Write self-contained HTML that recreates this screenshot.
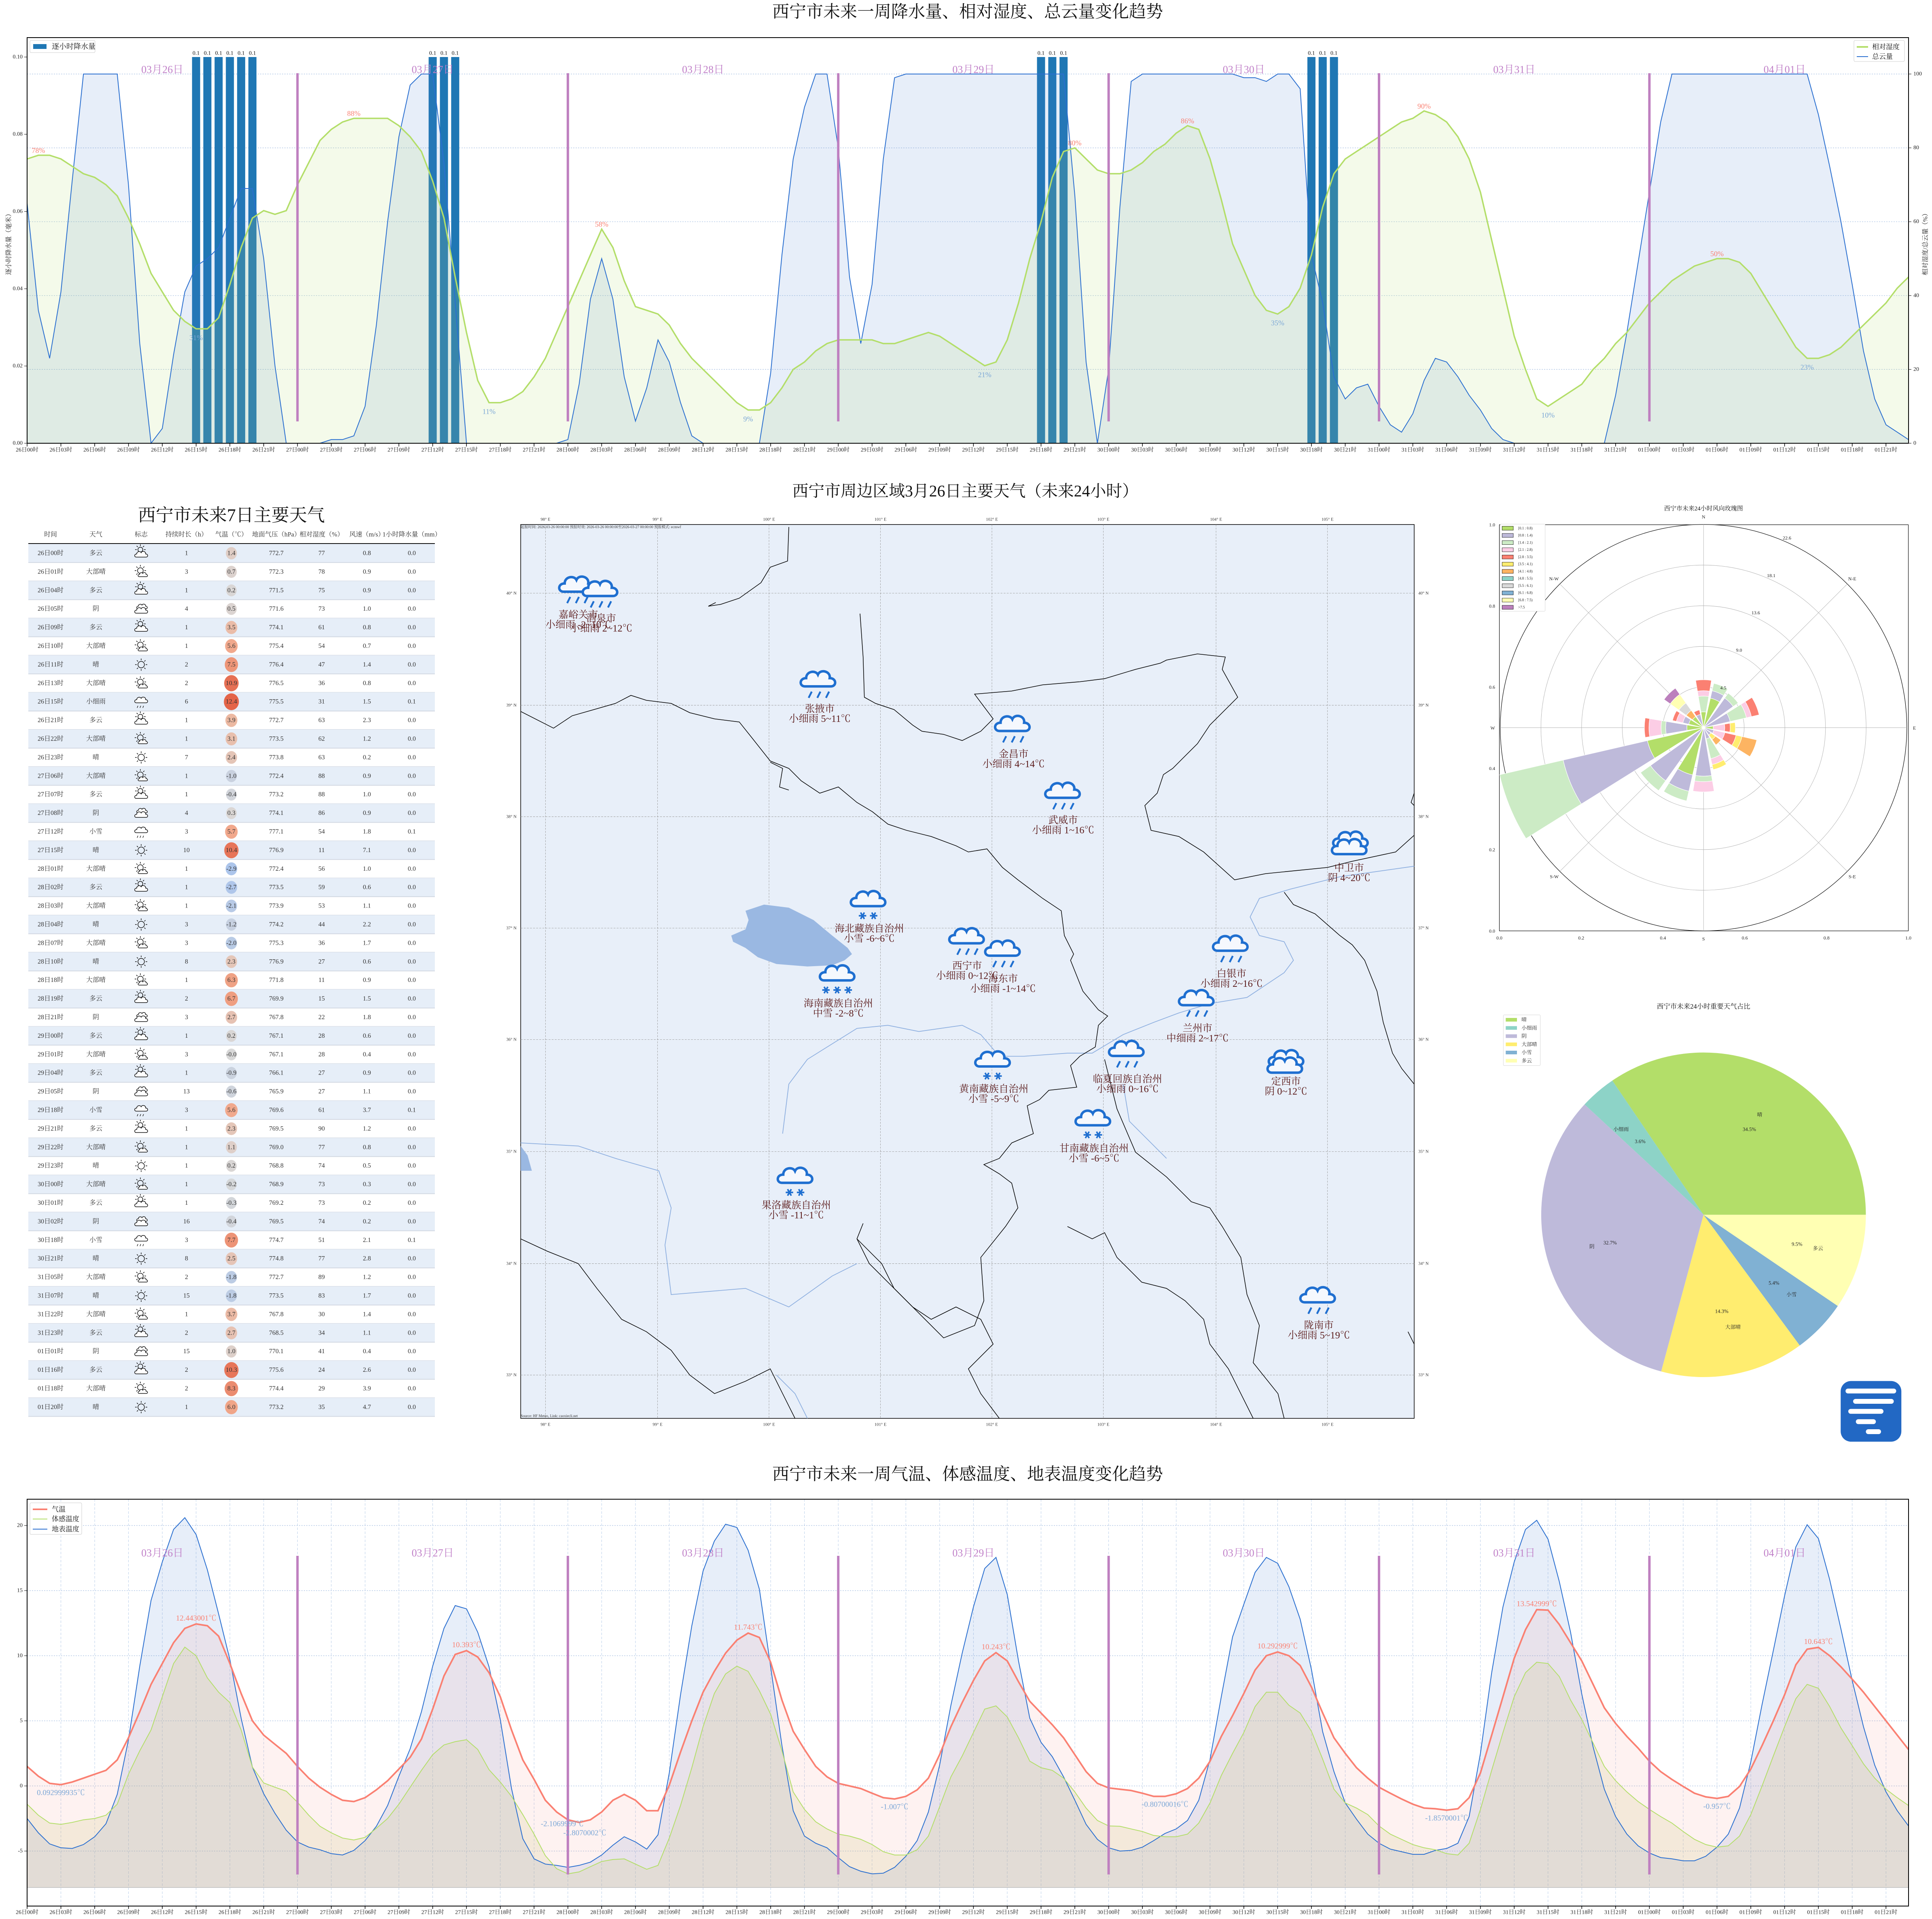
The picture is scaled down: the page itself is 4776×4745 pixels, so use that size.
<!DOCTYPE html>
<html><head><meta charset="utf-8">
<style>
html,body{margin:0;padding:0;background:#fff;}
body{width:4776px;height:4745px;position:relative;overflow:hidden;}
svg{font-family:"Liberation Serif","Noto Serif CJK SC","Noto Sans CJK SC",serif;}
</style></head>
<body>
<div id="root"></div>
<script>
const S=[];
const X=h=>67+h*27.85;
function T(x,y,t,sz,col,anc,ex){return `<text x="${x}" y="${y}" font-size="${sz}" fill="${col||'#222'}" text-anchor="${anc||'middle'}" dominant-baseline="central" ${ex||''}>${t}</text>`;}
const cld=[65,36,23,41,71,100,100,100,100,70, 27,0,4,24,41,48,50,53,61,69, 69,50,21,0,0,0,0,1,1,2, 10,32,60,83,97,100,100,76,38,0, 0,0,0,0,0,0,0,0,1,16, 39,50,39,18,6,15,28,22,11,2, 0,0,0,0,0,0,19,51,77,91, 100,100,80,45,27,43,77,99,100,100, 100,100,100,100,100,100,100,100,100,100, 100,100,100,67,22,0,20,64,98,100, 100,100,100,100,100,100,100,100,99,99, 98,100,100,96,51,38,18,12,15,16, 10,5,3,8,17,23,22,18,13,9, 4,1,0,0,0,0,0,0,0,0, 0,13,30,49,68,87,100,100,100,100, 100,100,100,100,100,100,100,100,100,89, 75,60,43,25,12,5,3,1];
const hum=[77,78,78,77,75,73,72,70,67,61, 54,46,41,36,33,31,31,34,43,53, 61,63,62,63,70,76,82,85,87,88, 88,88,88,86,83,79,71,61,45,30, 17,11,11,12,14,18,23,30,37,44, 51,58,53,44,37,36,35,32,27,23, 20,17,14,11,9,9,11,15,20,22, 25,27,28,28,28,28,27,27,28,29, 30,29,27,25,23,21,22,28,38,50, 60,72,79,80,77,74,73,73,74,76, 79,81,84,86,85,77,66,54,47,40, 36,35,37,42,51,64,73,77,79,81, 83,85,87,88,90,89,87,83,77,68, 55,42,29,20,12,10,12,14,16,20, 23,27,30,34,38,41,44,46,48,49, 50,50,49,46,41,36,31,26,23,23, 24,26,29,32,35,38,42,45];
const tmp=[1.5,0.75,0.2,0.1,0.3,0.6,0.9,1.2,2.0,3.7, 5.7,7.8,9.4,11.0,12.1,12.44,12.3,11.5,9.4,7.1, 5.0,3.9,3.2,2.5,1.5,0.6,-0.1,-0.65,-1.1,-1.2, -0.9,-0.3,0.4,1.3,2.2,3.6,5.9,8.45,10.1,10.39, 9.9,8.7,6.85,4.3,2.0,0.5,-1.1,-2.0,-2.6,-2.8, -2.6,-2.0,-1.1,-0.65,-1.1,-1.9,-1.9,0.06,2.6,5.0, 7.2,8.8,10.2,11.2,11.74,11.4,9.5,6.6,4.2,2.8, 1.5,0.7,0.2,0,-0.2,-0.56,-0.9,-1.0,-0.8,-0.3, 0.6,2.4,4.55,6.4,8.1,9.6,10.24,9.6,8.0,6.5, 5.6,4.7,3.7,2.4,1.1,0.2,-0.15,-0.25,-0.35,-0.56, -0.8,-0.8,-0.6,-0.2,0.6,1.9,3.8,5.4,7.1,8.9, 10.0,10.29,10.0,9.25,7.6,5.6,3.7,2.5,1.4,0.6, -0.1,-0.56,-1.0,-1.4,-1.7,-1.75,-1.86,-1.75,-0.9,1.0, 3.9,6.85,9.8,12.0,13.54,13.5,12.4,11.0,9.6,7.8, 6.0,4.8,3.8,2.9,1.9,1.1,0.5,-0.04,-0.56,-0.84, -0.96,-0.8,-0.04,1.3,3.1,5.0,7.0,9.3,10.5,10.64, 10.0,9.15,8.2,7.2,6.1,5.0,3.9,2.8];
const fel=[-1.4,-2.25,-2.85,-2.95,-2.8,-2.6,-2.5,-2.25,-1.4,0.9, 2.7,4.3,6.85,9.4,10.66,10.0,8.3,7.2,6.4,4.3, 1.45,0.23,-0.1,-0.4,-1.25,-2.25,-3.1,-3.6,-4.0,-4.15, -3.95,-3.25,-2.5,-1.4,-0.1,1.2,2.4,3.15,3.4,3.55, 2.8,1.25,0.3,-0.8,-2.2,-3.7,-5.35,-6.35,-6.75,-6.6, -6.2,-5.8,-5.65,-5.6,-6.0,-6.4,-6.1,-4.0,-1.5,1.4, 4.55,7.1,8.6,9.2,8.8,7.3,5.5,2.7,-0.46,-1.8, -2.75,-3.3,-3.7,-3.85,-4.1,-4.5,-5.05,-5.3,-5.3,-4.9, -3.85,-1.6,0.7,2.3,4.1,5.9,6.15,5.3,3.7,1.9, 1.4,1.2,0.6,-0.46,-1.7,-2.65,-3.07,-3.1,-3.3,-3.5, -3.8,-3.9,-3.9,-3.7,-2.85,-1.3,0.8,2.5,4.1,6.1, 7.2,7.2,6.2,5.6,4.2,2.05,-0.25,-1.3,-1.7,-2.2, -3.07,-3.7,-4.1,-4.5,-4.75,-4.9,-5.2,-5.3,-4.4,-1.8, 1.2,4.1,6.85,8.7,9.5,9.4,8.4,6.6,5.1,3.3, 1.5,0.4,-0.46,-1.2,-1.8,-2.35,-2.85,-3.5,-4.1,-4.5, -4.7,-4.6,-3.85,-2.2,0,2.3,4.55,6.7,7.8,7.5, 6.1,4.45,3.1,1.7,0.6,-0.25,-0.9,-1.5];
const sur=[-2.5,-3.6,-4.45,-4.75,-4.8,-4.5,-3.9,-2.9,-0.65,3.55, 9.2,14.25,17.2,19.7,20.6,19.3,16.6,13.2,9.7,5.2, 1.45,-0.6,-2.1,-3.4,-4.3,-4.7,-4.9,-5.2,-5.3,-4.95, -4.2,-3.1,-1.5,0.75,2.85,5.7,9.2,12.1,13.85,13.6, 11.8,9.15,5.1,-0.2,-4.05,-5.6,-6.0,-6.1,-6.25,-6.1, -5.85,-5.3,-4.55,-3.9,-4.3,-4.85,-3.75,1.0,7.0,12.3, 16.5,18.8,20.1,19.85,18.1,15.1,9.15,3.1,-1.9,-3.85, -4.4,-4.75,-5.5,-6.2,-6.55,-6.75,-6.7,-6.25,-5.4,-4.2, -2.0,1.6,6.2,10.2,13.75,16.7,17.55,14.7,9.6,5.2, 3.35,2.25,0.7,-1.1,-2.95,-4.1,-4.75,-5.0,-4.95,-4.7, -4.2,-3.65,-3.3,-2.65,-1.1,2.05,6.85,11.45,13.95,16.4, 17.55,17.1,15.3,12.8,8.95,4.15,1.1,-1.3,-2.55,-3.7, -4.4,-4.85,-5.05,-5.25,-5.25,-4.95,-4.8,-4.4,-2.35,2.5, 8.7,13.75,17.2,19.7,20.4,18.95,15.7,11.8,7.05,3.0, -0.25,-2.35,-3.7,-4.6,-5.15,-5.5,-5.6,-5.75,-5.75,-5.4, -4.7,-3.7,-1.7,1.85,6.25,10.4,14.6,18.35,20.06,19.0, 15.85,12.05,8.1,4.55,1.6,-0.46,-1.9,-3.07];
function pts(a,fy){return a.map((v,i)=>X(i).toFixed(1)+','+fy(v).toFixed(1)).join(' ');}
const days=['03月26日','03月27日','03月28日','03月29日','03月30日','03月31日','04月01日'];
const dl=['26','27','28','29','30','31','01'];
function xlabels(y){let o='';for(let h=0;h<168;h+=3){const d=dl[Math.floor(h/24)],hh=String(h%24).padStart(2,'0');o+=`<line x1="${X(h)}" y1="${y-16}" x2="${X(h)}" y2="${y-9}" stroke="#000" stroke-width="1.5"/>`+T(X(h),y,`${d}日${hh}时`,14,'#222');}return o;}

/* ---------- TOP CHART ---------- */
const Yp=v=>1096-v*9.13;
S.push(T(2392,30,'西宁市未来一周降水量、相对湿度、总云量变化趋势',42,'#111'));
for(let p=20;p<=100;p+=20)S.push(`<line x1="67" x2="4718" y1="${Yp(p)}" y2="${Yp(p)}" stroke="#a9c1e2" stroke-width="1.2" stroke-dasharray="3,3"/>`);
[15,16,17,18,19,20,36,37,38,90,91,92,114,115,116].forEach(h=>{S.push(`<rect x="${X(h)-10}" y="141" width="20" height="955" fill="#1f77b4"/>`+T(X(h),132,'0.1',14,'#111'));});
S.push(`<polygon points="${X(0)},1096 ${pts(cld,Yp)} ${X(167)},1096" fill="rgba(70,120,210,0.13)"/>`);
S.push(`<polygon points="${X(0)},1096 ${pts(hum,Yp)} ${X(167)},1096" fill="rgba(180,222,105,0.14)"/>`);
S.push(`<polyline points="${pts(cld,Yp)}" fill="none" stroke="#2a6fd0" stroke-width="2"/>`);
S.push(`<polyline points="${pts(hum,Yp)}" fill="none" stroke="#b3de69" stroke-width="3.5"/>`);
for(let d=1;d<7;d++)S.push(`<line x1="${X(24*d)}" x2="${X(24*d)}" y1="181" y2="1042" stroke="#bf80c0" stroke-width="6"/>`);
days.forEach((t,i)=>S.push(T(X(12+24*i),172,t,26,'#c080c8')));
[[1,78,1],[15,31,0],[29,88,1],[41,11,0],[51,58,1],[64,9,0],[85,21,0],[93,80,1],[103,86,1],[111,35,0],[124,90,1],[135,10,0],[150,50,1],[158,23,0]].forEach(a=>{S.push(T(X(a[0]),Yp(a[1])+(a[2]?-12:22),a[1]+'%',18,a[2]?'#fa8072':'#7aa6d6'));});
S.push(`<rect x="67" y="93" width="4651" height="1003" fill="none" stroke="#000" stroke-width="2"/>`);
S.push(xlabels(1113));
for(let i=0;i<=5;i++){const y=1096-i*191;S.push(`<line x1="60" x2="67" y1="${y}" y2="${y}" stroke="#000"/>`+T(56,y,(i*0.02).toFixed(2),14,'#222','end'));}
for(let p=0;p<=100;p+=20){S.push(`<line x1="4718" x2="4725" y1="${Yp(p)}" y2="${Yp(p)}" stroke="#000"/>`+T(4730,Yp(p),p,14,'#222','start'));}
S.push(T(22,600,'逐小时降水量（毫米）',16,'#222','middle','transform="rotate(-90 22 600)"'));
S.push(T(4760,600,'相对湿度/总云量（%）',16,'#222','middle','transform="rotate(-90 4760 600)"'));
S.push(`<rect x="74" y="100" width="161" height="30" rx="3" fill="#fff" stroke="#ccc"/><rect x="82" y="109" width="33" height="12" fill="#1f77b4"/>`+T(128,115,'逐小时降水量',18,'#111','start'));
S.push(`<rect x="4583" y="100" width="125" height="52" rx="3" fill="#fff" stroke="#ccc"/><line x1="4590" x2="4618" y1="116" y2="116" stroke="#b3de69" stroke-width="4"/><line x1="4590" x2="4618" y1="140" y2="140" stroke="#2a6fd0" stroke-width="2"/>`+T(4628,116,'相对湿度',17,'#111','start')+T(4628,140,'总云量',17,'#111','start'));

/* ---------- BOTTOM CHART ---------- */
const Yt=v=>4416-32.2*v; const BL=4667;
S.push(T(2392,3646,'西宁市未来一周气温、体感温度、地表温度变化趋势',42,'#111'));
for(let h=0;h<168;h+=3)S.push(`<line x1="${X(h)}" x2="${X(h)}" y1="3707" y2="4713" stroke="#b8cde8" stroke-width="1" stroke-dasharray="6,4"/>`);
for(let t=-5;t<=20;t+=5)S.push(`<line x1="67" x2="4718" y1="${Yt(t)}" y2="${Yt(t)}" stroke="#a9c1e2" stroke-width="1.2" stroke-dasharray="3,3"/>`);
S.push(`<polygon points="${X(0)},${BL} ${pts(sur,Yt)} ${X(167)},${BL}" fill="rgba(70,120,210,0.13)"/>`);
S.push(`<polygon points="${X(0)},${BL} ${pts(tmp,Yt)} ${X(167)},${BL}" fill="rgba(250,128,114,0.10)"/>`);
S.push(`<polygon points="${X(0)},${BL} ${pts(fel,Yt)} ${X(167)},${BL}" fill="rgba(205,200,130,0.2)"/>`);
S.push(`<line x1="67" x2="4718" y1="${BL}" y2="${BL}" stroke="#c8c8c8" stroke-width="2"/>`);
S.push(`<polyline points="${pts(sur,Yt)}" fill="none" stroke="#2a6fd0" stroke-width="2"/>`);
S.push(`<polyline points="${pts(fel,Yt)}" fill="none" stroke="#b3de69" stroke-width="2"/>`);
S.push(`<polyline points="${pts(tmp,Yt)}" fill="none" stroke="#fa8072" stroke-width="4"/>`);
for(let d=1;d<7;d++)S.push(`<line x1="${X(24*d)}" x2="${X(24*d)}" y1="3847" y2="4635" stroke="#bf80c0" stroke-width="6"/>`);
days.forEach((t,i)=>S.push(T(X(12+24*i),3840,t,26,'#c080c8')));
[[15,12.44,'12.443001℃',1],[3,0.1,'0.092999935℃',0],[39,10.39,'10.393℃',1],[47.5,-2.3,'-2.1069999℃',0],[49.5,-3.0,'-2.8070002℃',0],[64,11.74,'11.743℃',1],[77,-1.0,'-1.007℃',0],[86,10.24,'10.243℃',1],[101,-0.8,'-0.80700016℃',0],[111,10.29,'10.292999℃',1],[126,-1.86,'-1.8570001℃',0],[134,13.54,'13.542999℃',1],[150,-0.96,'-0.957℃',0],[159,10.64,'10.643℃',1]].forEach(a=>{S.push(T(X(a[0]),Yt(a[1])+(a[3]?-14:20),a[2],19,a[3]?'#fa8072':'#7aa6d6'));});
S.push(`<rect x="67" y="3707" width="4651" height="1006" fill="none" stroke="#000" stroke-width="2"/>`);
S.push(xlabels(4729));
for(let t=-5;t<=20;t+=5)S.push(`<line x1="60" x2="67" y1="${Yt(t)}" y2="${Yt(t)}" stroke="#000"/>`+T(56,Yt(t),t,14,'#222','end'));
S.push(`<rect x="74" y="3716" width="128" height="78" rx="3" fill="#fff" stroke="#ccc"/><line x1="81" x2="117" y1="3732" y2="3732" stroke="#fa8072" stroke-width="4"/><line x1="81" x2="117" y1="3756" y2="3756" stroke="#b3de69" stroke-width="2"/><line x1="81" x2="117" y1="3781" y2="3781" stroke="#2a6fd0" stroke-width="2"/>`+T(128,3732,'气温',17,'#111','start')+T(128,3756,'体感温度',17,'#111','start')+T(128,3781,'地表温度',17,'#111','start'));

/* ---------- TABLE ---------- */
S.push(T(572,1274,'西宁市未来7日主要天气',44,'#111'));
['时间','天气','标志','持续时长（h）','气温（℃）','地面气压（hPa）','相对湿度（%）','风速（m/s）','1小时降水量（mm）'].forEach((t,i)=>S.push(T([125,237,349,461,572,683,795,907,1018][i],1322,t,16,'#333')));
const rows=`26日00时 多云 1 1.4 772.7 77 0.8 0.0
26日01时 大部晴 3 0.7 772.3 78 0.9 0.0
26日04时 多云 1 0.2 771.5 75 0.9 0.0
26日05时 阴 4 0.5 771.6 73 1.0 0.0
26日09时 多云 1 3.5 774.1 61 0.8 0.0
26日10时 大部晴 1 5.6 775.4 54 0.7 0.0
26日11时 晴 2 7.5 776.4 47 1.4 0.0
26日13时 大部晴 2 10.9 776.5 36 0.8 0.0
26日15时 小细雨 6 12.4 775.5 31 1.5 0.1
26日21时 多云 1 3.9 772.7 63 2.3 0.0
26日22时 大部晴 1 3.1 773.5 62 1.2 0.0
26日23时 晴 7 2.4 773.8 63 0.2 0.0
27日06时 大部晴 1 -1.0 772.4 88 0.9 0.0
27日07时 多云 1 -0.4 773.2 88 1.0 0.0
27日08时 阴 4 0.3 774.1 86 0.9 0.0
27日12时 小雪 3 5.7 777.1 54 1.8 0.1
27日15时 晴 10 10.4 776.9 11 7.1 0.0
28日01时 大部晴 1 -2.9 772.4 56 1.0 0.0
28日02时 多云 1 -2.7 773.5 59 0.6 0.0
28日03时 大部晴 1 -2.1 773.9 53 1.1 0.0
28日04时 晴 3 -1.2 774.2 44 2.2 0.0
28日07时 大部晴 3 -2.0 775.3 36 1.7 0.0
28日10时 晴 8 2.3 776.9 27 0.6 0.0
28日18时 大部晴 1 6.3 771.8 11 0.9 0.0
28日19时 多云 2 6.7 769.9 15 1.5 0.0
28日21时 阴 3 2.7 767.8 22 1.8 0.0
29日00时 多云 1 0.2 767.1 28 0.6 0.0
29日01时 大部晴 3 -0.0 767.1 28 0.4 0.0
29日04时 多云 1 -0.9 766.1 27 0.9 0.0
29日05时 阴 13 -0.6 765.9 27 1.1 0.0
29日18时 小雪 3 5.6 769.6 61 3.7 0.1
29日21时 多云 1 2.3 769.5 90 1.2 0.0
29日22时 大部晴 1 1.1 769.0 77 0.8 0.0
29日23时 晴 1 0.2 768.8 74 0.5 0.0
30日00时 大部晴 1 -0.2 768.9 73 0.3 0.0
30日01时 多云 1 -0.3 769.2 73 0.2 0.0
30日02时 阴 16 -0.4 769.5 74 0.2 0.0
30日18时 小雪 3 7.7 774.7 51 2.1 0.1
30日21时 晴 8 2.5 774.8 77 2.8 0.0
31日05时 大部晴 2 -1.8 772.7 89 1.2 0.0
31日07时 晴 15 -1.8 773.5 83 1.7 0.0
31日22时 大部晴 1 3.7 767.8 30 1.4 0.0
31日23时 多云 2 2.7 768.5 34 1.1 0.0
01日01时 阴 15 1.0 770.1 41 0.4 0.0
01日16时 多云 2 10.3 775.6 24 2.6 0.0
01日18时 大部晴 2 8.3 774.4 29 3.9 0.0
01日20时 晴 1 6.0 773.2 35 4.7 0.0`.split('\n').map(r=>r.split(' '));
function mix(a,b,t){t=Math.max(0,Math.min(1,t));return 'rgb('+a.map((v,i)=>Math.round(v+(b[i]-v)*t)).join(',')+')';}
function tc(t){const g=[216,216,216];if(t<0)return mix(g,[170,196,236],-t/3);if(t<5)return mix(g,[242,176,147],t/5);return mix([242,176,147],[228,100,72],(t-5)/7);}
const cloudD=(x,y,s)=>`M${x-22*s},${y+10*s} C${x-32*s},${y+10*s} ${x-32*s},${y-4*s} ${x-20*s},${y-4*s} C${x-20*s},${y-16*s} ${x-4*s},${y-18*s} ${x},${y-10*s} C${x+4*s},${y-20*s} ${x+22*s},${y-16*s} ${x+20*s},${y-4*s} C${x+32*s},${y-4*s} ${x+32*s},${y+10*s} ${x+22*s},${y+10*s} Z`;
function sun(x,y,r){let o=`<circle cx="${x}" cy="${y}" r="${r}" fill="none" stroke="#111" stroke-width="1.5"/>`;for(let k=0;k<8;k++){const a=k*Math.PI/4;o+=`<line x1="${x+Math.cos(a)*(r+3)}" y1="${y+Math.sin(a)*(r+3)}" x2="${x+Math.cos(a)*(r+7)}" y2="${y+Math.sin(a)*(r+7)}" stroke="#111" stroke-width="1.5"/>`;}return o;}
function icon(w,x,y){const cs=`fill="#fff" stroke="#111" stroke-width="1.5"`;
 if(w==='晴')return sun(x,y,8);
 if(w==='大部晴')return sun(x-2,y-3,7)+`<path d="${cloudD(x+4,y+8,0.4)}" ${cs}/>`;
 if(w==='多云')return sun(x-2,y-9,6)+`<path d="${cloudD(x,y+4,0.55)}" ${cs}/>`;
 if(w==='阴')return `<path d="${cloudD(x+2,y-5,0.45)}" ${cs}/><path d="${cloudD(x,y+5,0.55)}" ${cs}/>`;
 let o=`<path d="${cloudD(x,y-3,0.55)}" ${cs}/>`;
 for(let k=0;k<3;k++)o+=`<line x1="${x-8+k*7}" y1="${y+10}" x2="${x-10+k*7}" y2="${y+15}" stroke="#111" stroke-width="1.3"/>`;return o;}
rows.forEach((r,i)=>{const top=1345+i*45.9,y=1368+i*45.9;
 if(i%2===0)S.push(`<rect x="70" y="${top}" width="1005" height="45.9" fill="#e6eef8"/>`);
 S.push(`<line x1="70" x2="1075" y1="${top+45.9}" y2="${top+45.9}" stroke="#d2d8e2" stroke-width="2"/>`);
 const t=parseFloat(r[3]);const rx=13+0.45*Math.abs(t);
 S.push(`<ellipse cx="572" cy="${y}" rx="${rx}" ry="${rx*1.12}" fill="${tc(t)}"/>`);
 S.push(T(125,y,r[0],16,'#333')+T(237,y,r[1],16,'#333')+icon(r[1],349,y)+T(461,y,r[2],16,'#333')+T(572,y,r[3],16,'#333')+T(683,y,r[4],16,'#333')+T(795,y,r[5],16,'#333')+T(907,y,r[6],16,'#333')+T(1018,y,r[7],16,'#333'));});
S.push(`<line x1="70" x2="1075" y1="1344" y2="1344" stroke="#111" stroke-width="2"/>`);

/* ---------- MAP ---------- */
let M=[];
M.push(T(775,42,'西宁市周边区域3月26日主要天气（未来24小时）',26,'#111'));
M.push(`<rect x="57" y="96" width="1443" height="1444" fill="#e8eff9" stroke="#000" stroke-width="1"/>`);
const gx=[97,278,458,638,818,998,1180,1360],gy=[207,388,568,748,928,1109,1290,1470];
const lon=['98° E','99° E','100° E','101° E','102° E','103° E','104° E','105° E'],lat=['40° N','39° N','38° N','37° N','36° N','35° N','34° N','33° N'];
gx.forEach((x,i)=>{M.push(`<line x1="${x}" x2="${x}" y1="96" y2="1540" stroke="#999" stroke-width="0.6" stroke-dasharray="3,2"/>`+T(x,88,lon[i],7,'#333')+T(x,1550,lon[i],7,'#333'));});
gy.forEach((y,i)=>{M.push(`<line x1="57" x2="1500" y1="${y}" y2="${y}" stroke="#999" stroke-width="0.6" stroke-dasharray="3,2"/>`+T(42,y,lat[i],7,'#333')+T(1515,y,lat[i],7,'#333'));});
M.push(`<polygon points="420,720 450,710 490,715 530,735 560,760 585,780 592,790 580,800 560,808 520,810 470,806 440,795 420,780 400,770 397,760 420,750 425,735" fill="#9ab8e2"/><polygon points="57,1100 68,1115 75,1140 57,1140" fill="#9ab8e2"/>`);
const riv=['480,1080 490,1000 520,960 600,910 650,905 700,915 770,905 800,920 830,955 870,955 940,950 980,950 1030,920 1080,900 1120,885 1170,870 1230,860 1290,820 1305,800 1290,770 1250,760 1235,730 1250,700 1300,685 1380,665 1500,648','57,1095 150,1100 210,1120 280,1140 300,1200 290,1260 300,1340 420,1330 490,1360 560,1310 600,1290','470,1470 500,1500 520,1540','1030,1000 1040,1060 1100,1120'];
riv.forEach(p=>M.push(`<polyline points="${p}" fill="none" stroke="#8fb0e0" stroke-width="1.2"/>`));
const bd=['490,100 488,155 460,165 445,190 410,215 380,225 360,228 372,222',
'57,398 110,425 140,405 175,395 210,385 235,372 260,380 300,385 330,400 370,410 410,415 430,440 460,478 490,490 510,510 540,530 570,520 600,545 625,560 650,580 680,590 720,600 760,615 780,625 810,620 835,650 860,670 900,700 930,720 935,760 950,790 945,800 965,850 990,880 1005,890 990,905 985,940 960,955 945,970 955,1005 910,1010 895,1025 875,1035 880,1060 885,1080 850,1095 830,1120 805,1130 830,1145 850,1160 860,1200 840,1230 800,1280 805,1350 790,1390 740,1410 700,1370 660,1330 640,1310 620,1290 600,1250 610,1225',
'605,240 610,310 612,375 630,385 660,395 690,420 705,430 740,435 770,445 800,430 820,410 790,370 850,365 900,355 960,350 1000,345 1050,330 1090,320 1100,315 1150,305 1195,310 1190,330 1215,375 1170,420 1150,450 1110,490 1095,500 1085,530 1065,550 1075,590 1120,600 1160,625 1210,670 1260,660 1310,655 1360,650 1400,640 1470,625 1500,598',
'1290,690 1305,710 1340,725 1380,760 1400,775 1420,800 1440,850 1450,900 1465,950 1480,975 1500,1000',
'1000,960 1020,1040 1050,1110 1100,1150 1140,1190 1170,1200 1190,1230 1220,1280 1230,1340 1250,1390 1240,1450 1280,1500 1290,1540',
'940,1230 980,1250 1000,1240 1020,1280 1060,1320 1100,1330 1130,1350 1160,1380 1170,1420 1200,1460 1240,1540',
'57,1250 100,1270 150,1290 180,1330 220,1380 260,1400 300,1430 330,1470 370,1500 420,1480 460,1460 480,1500 500,1540',
'600,1250 640,1290 660,1330 690,1360 720,1380 760,1360 800,1380 820,1420 780,1460 800,1500 830,1540',
'460,480 480,490 475,520 490,525','1500,530 1495,545 1500,550','1490,1400 1500,1420'];
bd.forEach(p=>M.push(`<polyline points="${p}" fill="none" stroke="#000" stroke-width="1"/>`));
M.push(T(57,100,'起报时间: 2026-03-26 00:00:00 预报时效: 2026-03-26 00:00:00至2026-03-27 00:00:00 预报模式: ecmwf',6,'#333','start'));
M.push(T(57,1536,'Source: HF Meteo, Link: caoxiecli.net',6,'#333','start'));
function mcloud(x,y){return `<path d="${cloudD(x,y,0.95)}" fill="#f5f8fd" stroke="#1f6fd0" stroke-width="4"/>`;}
function mark(x,y,type){let o='';
 if(type==='阴')o+=mcloud(x+2,y-8)+mcloud(x,y+4);else o+=mcloud(x,y);
 if(type==='rain')for(let k=0;k<3;k++)o+=`<line x1="${x-10+k*14}" y1="${y+18}" x2="${x-15+k*14}" y2="${y+28}" stroke="#1f6fd0" stroke-width="3"/>`;
 if(type==='snow'||type==='snow3'){const n=type==='snow3'?3:2;for(let k=0;k<n;k++){const sx=x+(k-(n-1)/2)*18,sy=y+25;for(let a=0;a<3;a++){const t=a*Math.PI/3;o+=`<line x1="${sx-Math.cos(t)*6}" y1="${sy-Math.sin(t)*6}" x2="${sx+Math.cos(t)*6}" y2="${sy+Math.sin(t)*6}" stroke="#1f6fd0" stroke-width="2.5"/>`;}}}
 return o;}
const cities=[[147,195,'rain','嘉峪关市','小细雨 -2~10℃',150,242],[185,202,'rain','酒泉市','小细雨 2~12℃',187,248],[537,348,'rain','张掖市','小细雨 5~11℃',540,394],[851,420,'rain','金昌市','小细雨 4~14℃',853,467],[932,528,'rain','武威市','小细雨 1~16℃',933,574],[1395,615,'阴','中卫市','阴 4~20℃',1395,651],[618,703,'snow','海北藏族自治州','小雪 -6~6℃',620,749],[777,763,'rain','西宁市','小细雨 0~12℃',778,809],[835,783,'rain','海东市','小细雨 -1~14℃',836,830],[568,823,'snow3','海南藏族自治州','中雪 -2~8℃',570,870],[1203,775,'rain','白银市','小细雨 2~16℃',1205,822],[1148,863,'rain','兰州市','中细雨 2~17℃',1150,910],[1035,945,'rain','临夏回族自治州','小细雨 0~16℃',1037,992],[819,962,'snow','黄南藏族自治州','小雪 -5~9℃',821,1008],[1291,968,'阴','定西市','阴 0~12℃',1293,996],[981,1057,'snow','甘南藏族自治州','小雪 -6~5℃',983,1104],[500,1150,'snow','果洛藏族自治州','小雪 -11~1℃',502,1196],[1344,1343,'rain','陇南市','小细雨 5~19℃',1346,1390]];
cities.forEach(c=>M.push(mark(c[0],c[1],c[2])));
cities.forEach(c=>M.push(T(c[5],c[6],c[3],16,'#5a1a1a')+T(c[5],c[6]+16,c[4],16,'#5a1a1a')));
S.push(`<svg x="1200" y="1150" width="2400" height="2400" viewBox="0 0 1568 1568">${M.join('')}</svg>`);

/* ---------- WIND ROSE ---------- */
let W=[];const C={g:'#b3de69',l:'#bebada',c:'#ccebc5',p:'#fccde5',r:'#fb8072',y:'#ffed6f',o:'#fdb462',t:'#8dd3c7',s:'#d9d9d9',b:'#80b1d3',w:'#ffffb3',u:'#bc80bd'};
const wcx=815,wcy=799,R=670;
W.push(T(815,77,'西宁市未来24小时风向玫瑰图',20,'#111'));
W.push(`<rect x="142" y="130" width="1348" height="1339" fill="#fff" stroke="#000" stroke-width="1.5"/>`);
for(let i=0;i<=5;i++){W.push(T(128,1469-i*267.8,(i/5).toFixed(1),16,'#222','end')+T(142+i*269.6,1492,(i/5).toFixed(1),16,'#222'));}
W.push(`<circle cx="${wcx}" cy="${wcy}" r="${R}" fill="#fff" stroke="#000" stroke-width="1.5"/>`);
[134,268,402,536].forEach(r=>W.push(`<circle cx="${wcx}" cy="${wcy}" r="${r}" fill="none" stroke="#b0b0b0" stroke-width="1.2"/>`));
for(let k=0;k<4;k++){const a=k*Math.PI/4;W.push(`<line x1="${wcx-Math.sin(a)*R}" y1="${wcy+Math.cos(a)*R}" x2="${wcx+Math.sin(a)*R}" y2="${wcy-Math.cos(a)*R}" stroke="#b0b0b0" stroke-width="1.2"/>`);}
const P=(r,a)=>{const t=a*Math.PI/180;return (wcx+r*Math.sin(t)).toFixed(1)+','+(wcy-r*Math.cos(t)).toFixed(1);};
function wedge(a,r1,r2,col){const w=9.5;let d=`M${P(r1,a-w)} L${P(r2,a-w)} A${r2},${r2} 0 0 1 ${P(r2,a+w)} L${P(r1,a+w)}`;if(r1>0)d+=` A${r1},${r1} 0 0 0 ${P(r1,a-w)}`;return `<path d="${d} Z" fill="${col}" stroke="#fff" stroke-width="1.5"/>`;}
const wd=[['g52','c104','p122','r158'],['g100','l125','c150'],['l120','c140'],['l90','c145','p162','r188'],['g32','p70','r88','y105'],['l35','p72','r110','y130','o180'],['l30','y48','o70'],['l38','c105','p125','y142'],['l160','c178','p212'],['g160','l215','c248'],['l215','c255'],['g190','l475','c690'],['g55','l125','c140','p180','r195'],['g50','l70','p92','r105'],['g45','o70','s100','w135','u160'],['l45','r60']];
wd.forEach((segs,i)=>{let r0=0;segs.forEach(s=>{const r=+s.slice(1);W.push(wedge(i*22.5,r0,r,C[s[0]]));r0=r;});});
[['4.5',880,667],['9.0',932,543],['13.6',987,420],['18.1',1038,297],['22.6',1090,173]].forEach(a=>W.push(T(a[1],a[2],a[0],16,'#222')));
[['N',815,104],['N-E',1305,308],['E',1510,800],['S-E',1305,1290],['S',815,1495],['S-W',323,1290],['W',120,800],['N-W',322,308]].forEach(a=>W.push(T(a[1],a[2],a[0],16,'#222')));
W.push(`<rect x="145" y="128" width="148" height="287" rx="3" fill="#fff" stroke="#ccc"/>`);
['[0.1 : 0.8)','[0.8 : 1.4)','[1.4 : 2.1)','[2.1 : 2.8)','[2.8 : 3.5)','[3.5 : 4.1)','[4.1 : 4.8)','[4.8 : 5.5)','[5.5 : 6.1)','[6.1 : 6.8)','[6.8 : 7.5)','>7.5'].forEach((t,i)=>{const y=141+i*23.7;W.push(`<rect x="151" y="${y-6}" width="37" height="13" fill="${C['glcpryotsbwu'[i]]}" stroke="#000" stroke-width="1"/>`+T(204,y,t,12,'#222','start'));});
S.push(`<svg x="3600" y="1200" width="1176" height="1176" viewBox="0 0 1568 1568">${W.join('')}</svg>`);

/* ---------- PIE ---------- */
let Q=[];const pcx=815,pcy=805,pr=535;
Q.push(T(815,118,'西宁市未来24小时重要天气占比',22,'#111'));
const sl=[['晴',34.5,'#b3de69'],['小细雨',3.6,'#8dd3c7'],['阴',32.7,'#bebada'],['大部晴',14.3,'#ffed6f'],['小雪',5.4,'#80b1d3'],['多云',9.5,'#ffffb3']];
let a0=0;const PP=a=>{const t=a*Math.PI/180;return (pcx+pr*Math.cos(t)).toFixed(1)+','+(pcy-pr*Math.sin(t)).toFixed(1);};
sl.forEach(s=>{const a1=a0+s[1]*3.6;Q.push(`<path d="M${pcx},${pcy} L${PP(a0)} A${pr},${pr} 0 ${a1-a0>180?1:0} 0 ${PP(a1)} Z" fill="${s[2]}"/>`);a0=a1;});
[['晴',1000,475],['34.5%',966,523],['小细雨',543,523],['3.6%',606,563],['阴',447,910],['32.7%',507,897],['大部晴',912,1175],['14.3%',875,1123],['小雪',1105,1068],['5.4%',1047,1030],['多云',1192,916],['9.5%',1123,902]].forEach(a=>Q.push(T(a[1],a[2],a[0],17,'#222')));
Q.push(`<rect x="155" y="146" width="122" height="167" rx="3" fill="#fff" stroke="#ccc"/>`);
sl.forEach((s,i)=>{const y=162+i*27;Q.push(`<rect x="163" y="${y-6}" width="37" height="12" fill="${s[2]}"/>`+T(215,y,s[0],17,'#222','start'));});
Q.push(`<rect x="1267" y="1353" width="200" height="200" rx="34" fill="#2268c4"/>`);
[[1291,1442,1386],[1316,1434,1420],[1300,1400,1453],[1325,1375,1487],[1358,1392,1520]].forEach(b=>Q.push(`<line x1="${b[0]}" x2="${b[1]}" y1="${b[2]}" y2="${b[2]}" stroke="#fff" stroke-width="16" stroke-linecap="round"/>`));
S.push(`<svg x="3600" y="2400" width="1176" height="1176" viewBox="0 0 1568 1568">${Q.join('')}</svg>`);

document.getElementById('root').innerHTML=`<svg xmlns="http://www.w3.org/2000/svg" width="4776" height="4745" style="position:absolute;left:0;top:0">${S.join('')}</svg>`;
</script>
</body></html>
